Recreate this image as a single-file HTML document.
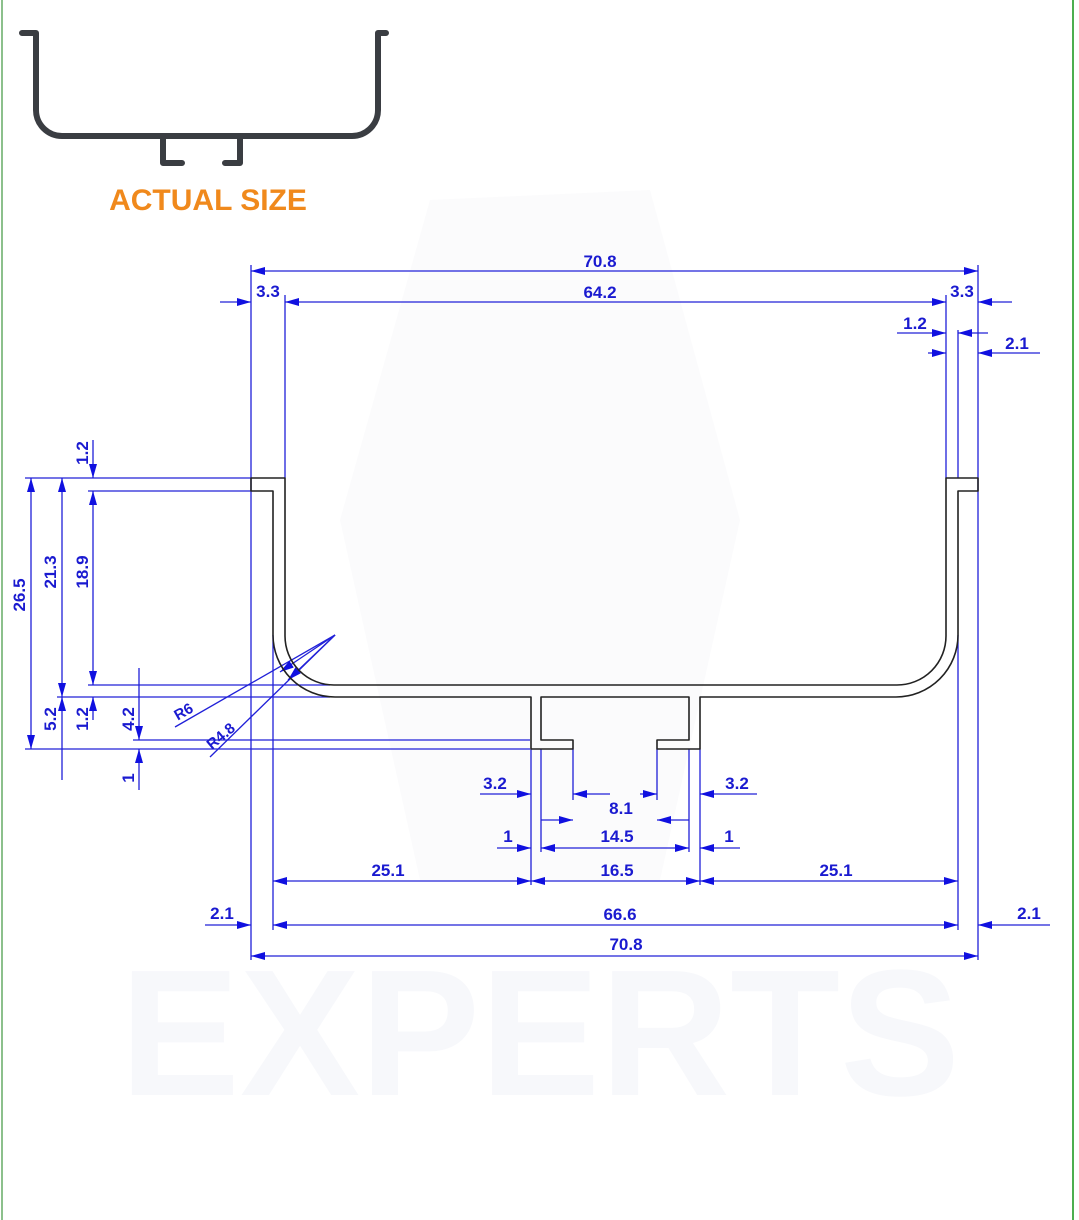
<!DOCTYPE html>
<html><head><meta charset="utf-8"><style>
html,body{margin:0;padding:0;background:#fff;}
svg{display:block;}
text{font-family:"Liberation Sans",sans-serif;font-weight:bold;}
</style></head><body>
<svg width="1079" height="1220" viewBox="0 0 1079 1220" xmlns="http://www.w3.org/2000/svg">
<defs>
<marker id="a" viewBox="0 0 14 8" refX="14" refY="4" markerWidth="14" markerHeight="8" markerUnits="userSpaceOnUse" orient="auto-start-reverse"><path d="M0,0 L14,4 L0,8 Z" fill="#1010e0"/></marker>
</defs>
<rect x="0" y="0" width="1079" height="1220" fill="#fff"/>
<line x1="2" y1="0" x2="2" y2="1220" stroke="#8cc08c" stroke-width="2"/>
<line x1="1073" y1="0" x2="1073" y2="1220" stroke="#4caf50" stroke-width="2"/>
<!-- watermark -->
<text x="540" y="1095" font-size="180" fill="#f7f8fb" text-anchor="middle">EXPERTS</text>
<path d="M430,200 L650,190 L740,520 L660,880 L420,880 L340,520 Z" fill="#fbfbfc"/>
<!-- thumbnail -->
<path d="M22,33 H36 V110 A26,26 0 0 0 62,136 H352 A26,26 0 0 0 378,110 V33 H386" fill="none" stroke="#3a3d42" stroke-width="6" stroke-linecap="round" stroke-linejoin="round"/>
<path d="M163,136 V163 H182 M240,136 V163 H225" fill="none" stroke="#3a3d42" stroke-width="6" stroke-linecap="round" stroke-linejoin="round"/>
<text x="208" y="210" font-size="30" fill="#f0891c" text-anchor="middle">ACTUAL SIZE</text>

<g stroke="#2020d8" stroke-width="1.3" fill="none">
<path d="M251,265 V960 M978,265 V960 M285,295 V478 M946,295 V478 M958,330 V478 M958,635 V930 M273,635 V930
M25,478 H251 M88,491 H251 M88,685 H330 M57,697 H330 M133,740 H530 M25,749 H530
M531,749 V885 M541,749 V852 M573,749 V800 M657,749 V800 M689,749 V852 M700,749 V885"/>
<line x1="251" y1="271" x2="978" y2="271" marker-start="url(#a)" marker-end="url(#a)"/>
<line x1="285" y1="302" x2="946" y2="302" marker-start="url(#a)" marker-end="url(#a)"/>
<line x1="31" y1="478" x2="31" y2="749" marker-start="url(#a)" marker-end="url(#a)"/>
<line x1="62" y1="478" x2="62" y2="697" marker-start="url(#a)" marker-end="url(#a)"/>
<line x1="93" y1="491" x2="93" y2="685" marker-start="url(#a)" marker-end="url(#a)"/>
<line x1="541" y1="848" x2="689" y2="848" marker-start="url(#a)" marker-end="url(#a)"/>
<line x1="531" y1="881" x2="700" y2="881" marker-start="url(#a)" marker-end="url(#a)"/>
<line x1="273" y1="881" x2="531" y2="881" marker-start="url(#a)" marker-end="url(#a)"/>
<line x1="700" y1="881" x2="958" y2="881" marker-start="url(#a)" marker-end="url(#a)"/>
<line x1="273" y1="925" x2="958" y2="925" marker-start="url(#a)" marker-end="url(#a)"/>
<line x1="251" y1="956" x2="978" y2="956" marker-start="url(#a)" marker-end="url(#a)"/>
<line x1="220" y1="302" x2="251" y2="302" marker-end="url(#a)"/>
<line x1="1012" y1="302" x2="978" y2="302" marker-end="url(#a)"/>
<line x1="897" y1="333" x2="946" y2="333" marker-end="url(#a)"/>
<line x1="988" y1="333" x2="958" y2="333" marker-end="url(#a)"/>
<line x1="928" y1="353" x2="946" y2="353" marker-end="url(#a)"/>
<line x1="1040" y1="353" x2="978" y2="353" marker-end="url(#a)"/>
<line x1="62" y1="780" x2="62" y2="697" marker-end="url(#a)"/>
<line x1="93" y1="440" x2="93" y2="478" marker-end="url(#a)"/>
<line x1="93" y1="720" x2="93" y2="697" marker-end="url(#a)"/>
<line x1="139" y1="668" x2="139" y2="740" marker-end="url(#a)"/>
<line x1="139" y1="790" x2="139" y2="749" marker-end="url(#a)"/>
<line x1="480" y1="794" x2="531" y2="794" marker-end="url(#a)"/>
<line x1="610" y1="794" x2="573" y2="794" marker-end="url(#a)"/>
<line x1="640" y1="794" x2="657" y2="794" marker-end="url(#a)"/>
<line x1="757" y1="794" x2="700" y2="794" marker-end="url(#a)"/>
<line x1="541" y1="820" x2="573" y2="820" marker-end="url(#a)"/>
<line x1="689" y1="820" x2="657" y2="820" marker-end="url(#a)"/>
<line x1="497" y1="848" x2="531" y2="848" marker-end="url(#a)"/>
<line x1="740" y1="848" x2="700" y2="848" marker-end="url(#a)"/>
<line x1="205" y1="925" x2="251" y2="925" marker-end="url(#a)"/>
<line x1="1050" y1="925" x2="978" y2="925" marker-end="url(#a)"/>
<line x1="175" y1="727" x2="335" y2="635"/>
<line x1="335" y1="635" x2="280" y2="672" marker-end="url(#a)"/>
<line x1="210" y1="757" x2="335" y2="635"/>
<line x1="335" y1="635" x2="288" y2="680" marker-end="url(#a)"/>
</g>

<path d="M251,478 H285 V636 A49,49 0 0 0 334,685 H897 A49,49 0 0 0 946,636 V478 H978 V491 H958 V635 A62,62 0 0 1 896,697 H700 V749 H657 V740 H689 V697 H541 V740 H573 V749 H531 V697 H335 A62,62 0 0 1 273,635 V491 H251 Z" fill="none" stroke="#222" stroke-width="1.6" stroke-linejoin="round"/>

<g fill="#1a1ad0" font-size="17">
<text x="600" y="267" text-anchor="middle">70.8</text>
<text x="600" y="298" text-anchor="middle">64.2</text>
<text x="268" y="297" text-anchor="middle">3.3</text>
<text x="962" y="297" text-anchor="middle">3.3</text>
<text x="915" y="329" text-anchor="middle">1.2</text>
<text x="1017" y="349" text-anchor="middle">2.1</text>
<text x="495" y="789" text-anchor="middle">3.2</text>
<text x="737" y="789" text-anchor="middle">3.2</text>
<text x="621" y="814" text-anchor="middle">8.1</text>
<text x="617" y="842" text-anchor="middle">14.5</text>
<text x="508" y="842" text-anchor="middle">1</text>
<text x="729" y="842" text-anchor="middle">1</text>
<text x="617" y="876" text-anchor="middle">16.5</text>
<text x="388" y="876" text-anchor="middle">25.1</text>
<text x="836" y="876" text-anchor="middle">25.1</text>
<text x="222" y="919" text-anchor="middle">2.1</text>
<text x="1029" y="919" text-anchor="middle">2.1</text>
<text x="620" y="920" text-anchor="middle">66.6</text>
<text x="626" y="950" text-anchor="middle">70.8</text>
<text transform="translate(25,595) rotate(-90)" text-anchor="middle">26.5</text>
<text transform="translate(56,572) rotate(-90)" text-anchor="middle">21.3</text>
<text transform="translate(88,572) rotate(-90)" text-anchor="middle">18.9</text>
<text transform="translate(88,453) rotate(-90)" text-anchor="middle">1.2</text>
<text transform="translate(56,719) rotate(-90)" text-anchor="middle">5.2</text>
<text transform="translate(88,719) rotate(-90)" text-anchor="middle">1.2</text>
<text transform="translate(134,719) rotate(-90)" text-anchor="middle">4.2</text>
<text transform="translate(134,778) rotate(-90)" text-anchor="middle">1</text>
<text transform="translate(186,716) rotate(-30)" text-anchor="middle" font-size="15">R6</text>
<text transform="translate(224,740) rotate(-40)" text-anchor="middle" font-size="15">R4.8</text>
</g>
</svg>
</body></html>
